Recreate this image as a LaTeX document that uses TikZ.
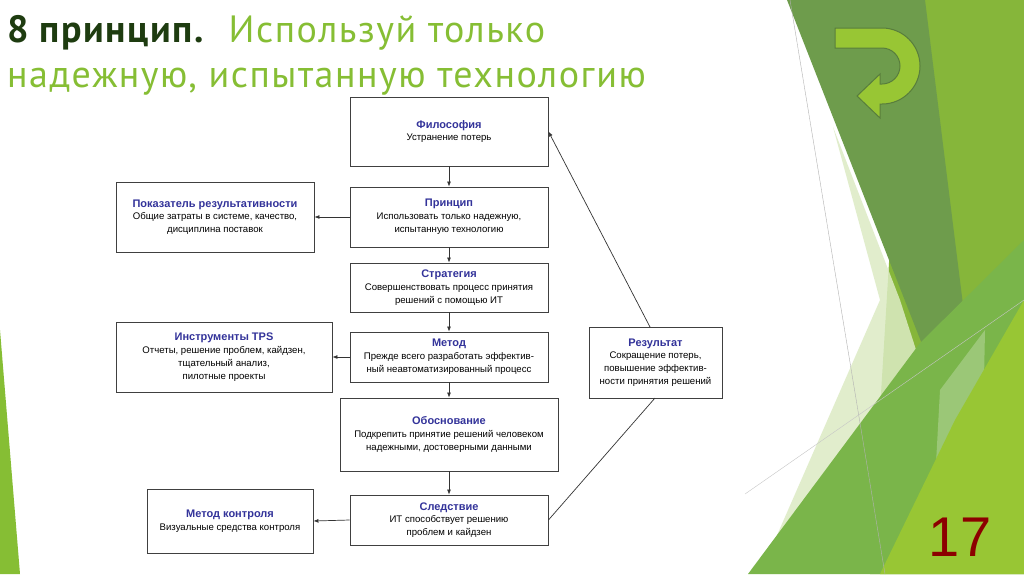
\documentclass[tikz,border=0pt]{standalone}
\usepackage{fontspec}
\setmainfont{Liberation Sans}
\newfontfamily\titlefont[LetterSpace=4]{PT Sans}
\usetikzlibrary{arrows.meta}
\definecolor{tblue}{HTML}{33339A}
\definecolor{tgreen}{HTML}{86BE34}
\definecolor{tdark}{HTML}{1E3C10}
\definecolor{gdark}{HTML}{6E9C4C}
\definecolor{gmid}{HTML}{86B63A}
\definecolor{gbright}{HTML}{98C634}
\definecolor{glight}{HTML}{DCEBC4}
\definecolor{gbot}{HTML}{7AB54A}
\begin{document}
\begin{tikzpicture}[x=1pt,y=-1pt,
  box/.style={draw=black!75,line width=0.9pt,fill=white,align=center,inner sep=1pt,font=\fontsize{9.6}{12.8}\selectfont},
  arr/.style={-{Latex[length=5pt,width=4pt]},line width=0.7pt,black!80}]
\useasboundingbox (0,0) rectangle (1024,574);
\fill[white] (0,0) rectangle (1024,574);
% right decoration
\fill[gmid] (905,0)--(1024,0)--(1024,574)--(870,574)--cycle;
\fill[gdark] (787,0)--(925,0)--(968,345)--(940,390)--cycle;
\fill[glight,opacity=0.85] (833,127)--(900,300)--(945,440)--(800,574)--(760,574)--(880,300)--cycle;
\fill[gbot] (748,574)--(920,343)--(1024,240)--(1024,574)--cycle;
\fill[white,opacity=0.25] (940,390)--(985,330)--(980,574)--(930,574)--cycle;
\fill[gbright] (880,574)--(955,420)--(1024,300)--(1024,574)--cycle;
\draw[gray!60,line width=0.4pt] (790,0)--(885,574);
\draw[gray!45,line width=0.4pt] (745,494)--(1024,300);
% U-turn arrow
\draw[fill=gbright,draw=gdark!80!black,line width=1pt]
 (835,28)--(882,28) arc[start angle=-90,end angle=90,radius=38] -- (882,104)--(880,104)--(880,118)--(857,96)--(880,74)--(880,84)--(882,84)
 arc[start angle=90,end angle=-90,radius=18] -- (835,48)--cycle;
% left strip
\fill[tgreen] (0,330)--(20,574)--(0,574)--cycle;
% title
\node[anchor=base west,inner sep=0,font=\titlefont\fontsize{38}{40}\selectfont] (t1) at (7,42) {\textcolor{tdark}{\textbf{8 принцип.}}\ \ \textcolor{tgreen}{Используй только}};
\node[anchor=base west,inner sep=0,font=\titlefont\fontsize{38}{40}\selectfont,text=tgreen] (t2) at (7,87) {надежную, испытанную технологию};
\node[anchor=base,inner sep=0,font=\fontsize{56}{56}\selectfont,text=red!55!black] (num) at (960,556) {17};
% boxes
\newcommand{\bt}[1]{{\fontsize{11}{13.5}\selectfont\bfseries\color{tblue}#1}}
\node[box,minimum width=198,minimum height=69] (fil) at (449,131.5) {\bt{Философия}\\Устранение потерь};
\node[box,minimum width=198,minimum height=60] (pri) at (449,217) {\bt{Принцип}\\Использовать только надежную,\\испытанную технологию};
\node[box,minimum width=198,minimum height=49] (str) at (449,287.5) {\bt{Стратегия}\\Совершенствовать процесс принятия\\решений с помощью ИТ};
\node[box,minimum width=198,minimum height=50] (met) at (449,357) {\bt{Метод}\\Прежде всего разработать эффектив-\\ный неавтоматизированный процесс};
\node[box,minimum width=218,minimum height=73] (obo) at (449,434.5) {\bt{Обоснование}\\Подкрепить принятие решений человеком\\надежными, достоверными данными};
\node[box,minimum width=198,minimum height=50] (sle) at (449,520) {\bt{Следствие}\\ИТ способствует решению\\проблем и кайдзен};
\node[box,minimum width=198,minimum height=70] (pok) at (215,217) {\bt{Показатель результативности}\\Общие затраты в системе, качество,\\дисциплина поставок};
\node[box,minimum width=216,minimum height=70] (ins) at (224,357) {\bt{Инструменты TPS}\\Отчеты, решение проблем, кайдзен,\\тщательный анализ,\\пилотные проекты};
\node[box,minimum width=166,minimum height=64] (kon) at (230,521) {\bt{Метод контроля}\\Визуальные средства контроля};
\node[box,minimum width=133,minimum height=71] (res) at (655.5,362.5) {\bt{Результат}\\Сокращение потерь,\\повышение эффектив-\\ности принятия решений};
% connectors
\draw[arr] (fil)--(pri);
\draw[arr] (pri)--(str);
\draw[arr] (str)--(met);
\draw[arr] (met)--(obo);
\draw[arr] (obo)--(sle);
\draw[arr] (pri.west)--(pok.east);
\draw[arr] (met.west)--(ins.east);
\draw[arr] (sle.west)--(kon.east);
\coordinate (rb) at (655,398);
\coordinate (rt) at (650,327);
\draw[line width=0.7pt,black!80] (sle.east)--(rb);
\draw[arr] (rt)--(fil.east);
\end{tikzpicture}
\end{document}
